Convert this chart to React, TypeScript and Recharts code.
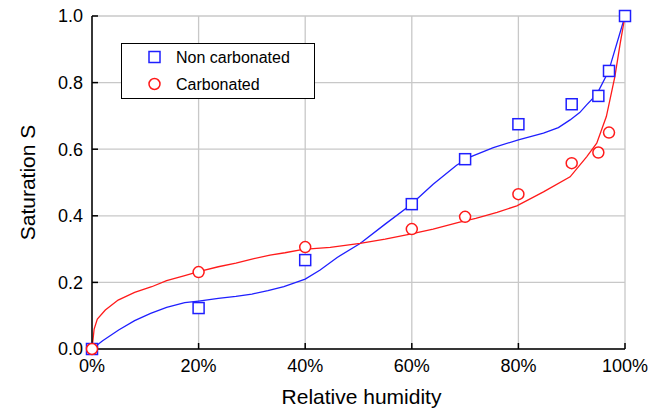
import React from 'react';
import { ComposedChart, Line, Scatter, XAxis, YAxis, CartesianGrid, Legend } from 'recharts';

// measured points (relative humidity in %, saturation)
const nonCarbonatedPoints = [
  { x: 0, y: 0 },
  { x: 20, y: 0.123 },
  { x: 40, y: 0.267 },
  { x: 60, y: 0.435 },
  { x: 70, y: 0.57 },
  { x: 80, y: 0.675 },
  { x: 90, y: 0.735 },
  { x: 95, y: 0.76 },
  { x: 97, y: 0.835 },
  { x: 100, y: 1.0 },
];

const carbonatedPoints = [
  { x: 0, y: 0 },
  { x: 20, y: 0.231 },
  { x: 40, y: 0.306 },
  { x: 60, y: 0.36 },
  { x: 70, y: 0.397 },
  { x: 80, y: 0.465 },
  { x: 90, y: 0.558 },
  { x: 95, y: 0.59 },
  { x: 97, y: 0.65 },
];

// fitted curves
const nonCarbonatedCurve = [
  { x: 0, y: 0 }, { x: 2, y: 0.025 }, { x: 5, y: 0.057 }, { x: 8, y: 0.085 },
  { x: 11, y: 0.107 }, { x: 14, y: 0.125 }, { x: 17.4, y: 0.139 }, { x: 20, y: 0.144 },
  { x: 23.7, y: 0.152 }, { x: 27, y: 0.158 }, { x: 30, y: 0.165 }, { x: 33, y: 0.175 },
  { x: 36, y: 0.187 }, { x: 40, y: 0.21 }, { x: 42.8, y: 0.237 }, { x: 46, y: 0.275 },
  { x: 50.3, y: 0.317 }, { x: 55, y: 0.375 }, { x: 59.7, y: 0.432 }, { x: 64, y: 0.495 },
  { x: 68.4, y: 0.552 }, { x: 71, y: 0.577 }, { x: 75.3, y: 0.605 }, { x: 80, y: 0.628 },
  { x: 84.7, y: 0.648 }, { x: 87.5, y: 0.665 }, { x: 89.7, y: 0.688 }, { x: 91.5, y: 0.71 },
  { x: 92.8, y: 0.733 }, { x: 94.7, y: 0.765 }, { x: 96.9, y: 0.833 }, { x: 100, y: 1.0 },
];

const carbonatedCurve = [
  { x: 0, y: 0 }, { x: 0.4, y: 0.06 }, { x: 1, y: 0.09 }, { x: 2.5, y: 0.117 },
  { x: 4.9, y: 0.147 }, { x: 8, y: 0.17 }, { x: 11.2, y: 0.187 }, { x: 14, y: 0.205 },
  { x: 17.4, y: 0.22 }, { x: 20, y: 0.232 }, { x: 23.7, y: 0.247 }, { x: 27, y: 0.258 },
  { x: 30, y: 0.27 }, { x: 33.4, y: 0.282 }, { x: 36.2, y: 0.289 }, { x: 39.6, y: 0.299 },
  { x: 44.7, y: 0.305 }, { x: 50.3, y: 0.317 }, { x: 55, y: 0.33 }, { x: 59.7, y: 0.345 },
  { x: 64, y: 0.36 }, { x: 68.8, y: 0.38 }, { x: 72, y: 0.392 }, { x: 76, y: 0.41 },
  { x: 79.7, y: 0.43 }, { x: 84.7, y: 0.472 }, { x: 89.7, y: 0.517 }, { x: 92.8, y: 0.577 },
  { x: 94.7, y: 0.618 }, { x: 96.5, y: 0.698 }, { x: 98.1, y: 0.818 }, { x: 99.1, y: 0.918 },
  { x: 100, y: 1.0 },
];

const xTicks = [0, 20, 40, 60, 80, 100];
const yTicks = [0, 0.2, 0.4, 0.6, 0.8, 1.0];

const BLUE = '#1f1fff';
const RED = '#ff1a1a';
const FONT = '"Liberation Sans", Arial, Helvetica, sans-serif';

const SquareMark = (props: any) => {
  const { cx, cy } = props;
  if (cx == null || cy == null) return null;
  return <rect x={cx - 5.5} y={cy - 5.5} width={11} height={11} fill="#fff" stroke={BLUE} strokeWidth={1.5} />;
};

const CircleMark = (props: any) => {
  const { cx, cy } = props;
  if (cx == null || cy == null) return null;
  return <circle cx={cx} cy={cy} r={5.5} fill="#fff" stroke={RED} strokeWidth={1.5} />;
};

const LegendBox = () => (
  <div
    style={{
      width: 194,
      height: 56,
      boxSizing: 'border-box',
      border: '1.5px solid #000',
      background: '#fff',
      position: 'relative',
      fontFamily: FONT,
      fontSize: 16,
      color: '#000',
    }}
  >
    <svg width={20} height={56} style={{ position: 'absolute', left: 22, top: -1 }}>
      <rect x={5} y={8.5} width={11} height={11} fill="#fff" stroke={BLUE} strokeWidth={1.5} />
      <circle cx={10.5} cy={41} r={5.5} fill="#fff" stroke={RED} strokeWidth={1.5} />
    </svg>
    <div style={{ position: 'absolute', left: 54, top: 4, lineHeight: '20px' }}>Non carbonated</div>
    <div style={{ position: 'absolute', left: 54, top: 31, lineHeight: '20px' }}>Carbonated</div>
  </div>
);

const App: React.FC = () => {
  const tickStyle = { fill: '#000', fontSize: 18, fontFamily: FONT };
  return (
    <div style={{ position: 'absolute', left: 0, top: 0, width: 658, height: 409, background: '#fff' }}>
      <ComposedChart width={658} height={409} margin={{ top: 16, right: 33, left: 0, bottom: 0 }}>
        <CartesianGrid stroke="#c8c8c8" strokeWidth={1.3} horizontalValues={yTicks} verticalValues={xTicks} />
        <XAxis
          dataKey="x"
          type="number"
          domain={[0, 100]}
          ticks={xTicks}
          tickFormatter={(v) => `${v}%`}
          height={60}
          tickSize={-6}
          tickMargin={16}
          axisLine={{ stroke: '#000', strokeWidth: 1.5 }}
          tickLine={{ stroke: '#000', strokeWidth: 1.5 }}
          tick={tickStyle}
          label={{ value: 'Relative humidity', position: 'insideBottom', offset: 5, dx: 3, fill: '#000', fontSize: 21, fontFamily: FONT }}
        />
        <XAxis xAxisId="top" orientation="top" type="number" domain={[0, 100]} height={0} tick={false} tickLine={false} axisLine={{ stroke: '#000', strokeWidth: 1.5 }} />
        <YAxis
          dataKey="y"
          type="number"
          domain={[0, 1]}
          ticks={yTicks}
          tickFormatter={(v) => Number(v).toFixed(1)}
          width={92}
          tickSize={-6}
          tickMargin={15}
          axisLine={{ stroke: '#000', strokeWidth: 1.5 }}
          tickLine={{ stroke: '#000', strokeWidth: 1.5 }}
          tick={tickStyle}
          label={{ value: 'Saturation S', angle: -90, position: 'center', dx: -18, fill: '#000', fontSize: 21, fontFamily: FONT }}
        />
        <YAxis yAxisId="right" orientation="right" type="number" domain={[0, 1]} width={0} tick={false} tickLine={false} axisLine={{ stroke: '#000', strokeWidth: 1.5 }} />
        <Legend
          verticalAlign="middle"
          align="center"
          layout="horizontal"
          content={<LegendBox />}
          wrapperStyle={{ left: 121, top: 43, width: 194, height: 56 }}
        />
        <Line data={nonCarbonatedCurve} dataKey="y" type="linear" stroke={BLUE} strokeWidth={1.3} dot={false} activeDot={false} isAnimationActive={false} legendType="none" />
        <Line data={carbonatedCurve} dataKey="y" type="linear" stroke={RED} strokeWidth={1.3} dot={false} activeDot={false} isAnimationActive={false} legendType="none" />
        <Scatter name="Carbonated" data={carbonatedPoints.slice(1)} dataKey="y" shape={<CircleMark />} isAnimationActive={false} />
        <Scatter name="Non carbonated" data={nonCarbonatedPoints} dataKey="y" shape={<SquareMark />} isAnimationActive={false} />
        <Scatter name="Carbonated origin" data={carbonatedPoints.slice(0, 1)} dataKey="y" shape={<CircleMark />} isAnimationActive={false} />
      </ComposedChart>
    </div>
  );
};

export default App;
